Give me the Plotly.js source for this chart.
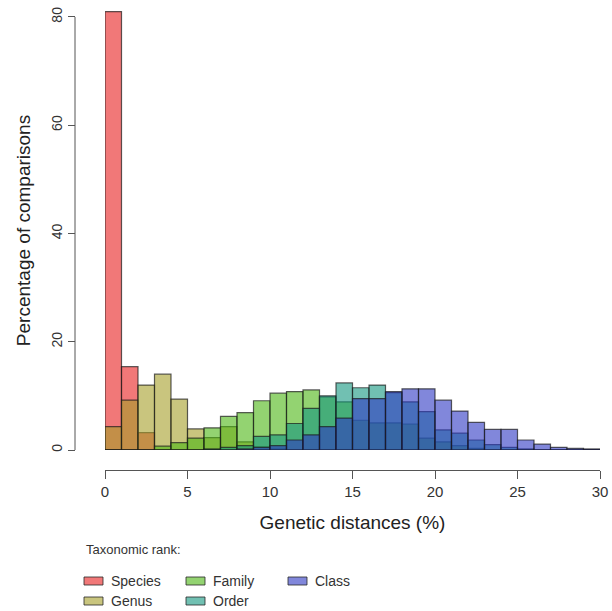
<!DOCTYPE html>
<html>
<head>
<meta charset="utf-8">
<script src="https://cdn.plot.ly/plotly-3.0.1.min.js"></script>
<style>html,body{margin:0;padding:0;background:#fff;}#chart{width:612px;height:611px;}</style>
</head>
<body>
<div id="chart"></div>
<script>
// Bin left edges (1 % wide bins)
const binStarts = [0,1,2,3,4,5,6,7,8,9,10,11,12,13,14,15,16,17,18,19,20,21,22,23,24,25,26,27,28,29];
// Percentage of comparisons per bin, by taxonomic rank
const species = [81,15.4,3.2,0,0,0,0,0,0,0,0,0,0,0,0,0,0,0,0,0,0,0,0,0,0,0,0,0,0,0];
const genus   = [4.3,9.2,12.0,14.0,9.4,3.9,2.3,4.3,1.5,0.6,0.3,0,0,0,0,0,0,0,0,0,0,0,0,0,0,0,0,0,0,0];
const family  = [0,0,0,0.7,1.35,2.2,4.1,6.2,6.9,9.1,10.5,10.8,11.1,9.8,8.9,5.5,5.0,5.0,4.8,2.2,1.5,0.8,0.3,0,0,0,0,0,0,0];
const order   = [0,0,0,0,0,0,0.2,0.5,0.8,2.5,2.8,4.9,7.7,10.0,12.4,11.5,12.0,10.6,8.9,7.1,3.7,3.1,1.85,1.0,0.5,0.2,0,0,0,0];
const klass   = [0,0,0,0,0,0,0,0,0.2,0.5,0.8,1.85,2.8,4.3,5.9,9.5,9.5,10.8,11.3,11.3,9.2,7.2,5.1,3.8,3.8,1.85,1.1,0.5,0.3,0.2];

const seriesNames = ["Species","Genus","Family","Order","Class"];
const seriesData = [species, genus, family, order, klass];
const seriesColors = ["rgba(232,30,30,0.6)","rgba(165,158,40,0.6)","rgba(75,182,18,0.6)","rgba(18,150,126,0.6)","rgba(45,55,195,0.6)"];

const xTicks = [0,5,10,15,20,25,30];
const yTicks = [0,20,40,60,80];

const FONT = "Liberation Sans, Arial, Helvetica, sans-serif";
const W = 612, H = 611;
const M = {l:60, r:12, t:11, b:100};
const PW = W - M.l - M.r, PH = H - M.t - M.b;
const px = x => (x - M.l) / PW;
const py = y => (H - M.b - y) / PH;

const traces = seriesData.map((vals, i) => ({
  type: "bar",
  name: seriesNames[i],
  x: binStarts.map(b => b + 0.5),
  y: vals,
  width: 1,
  marker: {color: seriesColors[i], line: {color: "rgba(25,25,25,0.7)", width: 1.2}},
  hoverinfo: "name+y",
  showlegend: false
}));

// Manual legend (R-style)
const legendItems = [
  {name:"Species", c:0, sx:84, ty:581},
  {name:"Family",  c:2, sx:186, ty:581},
  {name:"Class",   c:4, sx:288, ty:581},
  {name:"Genus",   c:1, sx:84, ty:601},
  {name:"Order",   c:3, sx:186, ty:601}
];
const shapes = legendItems.map(it => ({
  type:"rect", xref:"paper", yref:"paper",
  x0: px(it.sx), x1: px(it.sx + 19), y0: py(it.ty + 4), y1: py(it.ty - 4),
  fillcolor: seriesColors[it.c], line:{color:"rgba(40,40,40,0.8)", width:1}
}));
// y axis line spanning only the tick range (R style)
shapes.push({type:"line", xref:"paper", yref:"y", x0: px(75), x1: px(75), y0: yTicks[0], y1: yTicks[yTicks.length-1],
  line:{color:"#555", width:1}});
const annotations = legendItems.map(it => ({
  xref:"paper", yref:"paper", x: px(it.sx + 25), y: py(it.ty),
  xanchor:"left", yanchor:"middle", showarrow:false, text: it.name,
  font:{family:FONT, size:14, color:"#333"}
}));
annotations.push({
  xref:"paper", yref:"paper", x: px(84), y: py(549), xanchor:"left", yanchor:"middle",
  showarrow:false, text:"Taxonomic rank:", font:{family:FONT, size:13, color:"#333"}
});

const layout = {
  width: W, height: H,
  margin: M,
  paper_bgcolor: "#fff", plot_bgcolor: "#fff",
  barmode: "overlay",
  bargap: 0,
  font: {family: FONT, color: "#333"},
  xaxis: {
    domain: [px(105), 1], range: [0, 30], anchor: "free", position: py(470),
    showline: true, linecolor: "#555", linewidth: 1, ticks: "outside", ticklen: 8, tickcolor: "#555",
    tickvals: xTicks, ticktext: xTicks.map(String), tickfont: {family: FONT, size: 15, color: "#333"},
    showgrid: false, zeroline: false, automargin: false,
    title: {text: "Genetic distances (%)", font: {family: FONT, size: 19, color: "#222"}, standoff: 16}
  },
  yaxis: {
    domain: [py(450), 1], range: [0, 81.1], anchor: "free", position: px(75),
    showline: false, ticks: "outside", ticklen: 7, tickcolor: "#555",
    tickvals: yTicks, ticktext: yTicks.map(String), tickangle: -90, tickfont: {family: FONT, size: 14, color: "#333"},
    showgrid: false, zeroline: false, automargin: false,
    title: {text: "Percentage of comparisons", font: {family: FONT, size: 19, color: "#222"}, standoff: 12}
  },
  shapes: shapes,
  annotations: annotations,
  showlegend: false
};

Plotly.newPlot("chart", traces, layout, {displayModeBar: false, staticPlot: true});
</script>
</body>
</html>
